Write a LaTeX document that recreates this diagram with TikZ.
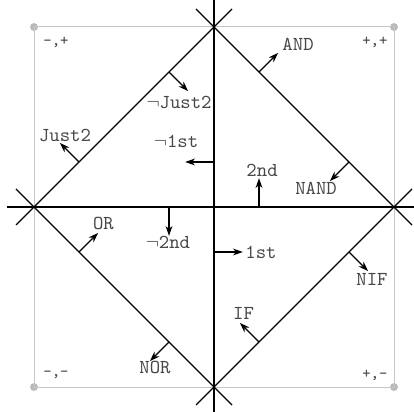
\documentclass[tikz,border=0pt]{standalone}
\usepackage{fontspec}
\usepackage{tikz}
\usetikzlibrary{arrows.meta, positioning, calc}

\begin{document}
\begin{tikzpicture}[x=3.2cm, y=3.2cm,
        axis/.style={draw=black, line width=0.65pt},
        side/.style={draw=black, line width=0.65pt},
        frame/.style={draw=gray!45, line width=0.5pt},
        corner/.style={circle, fill=gray!55, inner sep=0pt, minimum size=4pt},
        arrow/.style={-{Stealth[length=5pt, width=3.5pt]}, line width=0.6pt},
        label/.style={font=\ttfamily, text=black!72, inner sep=1pt},
        sign/.style={font=\footnotesize\ttfamily, text=black!70, inner sep=1pt}
    ]
    \useasboundingbox (-1.1889,-1.1389) rectangle (1.1111,1.15);

    % Frame and corner points
    \node[corner] (nw) at (-1, 1) {};
    \node[corner] (ne) at (1, 1) {};
    \node[corner] (se) at (1, -1) {};
    \node[corner] (sw) at (-1, -1) {};
    \draw[frame] (nw.center) -- (ne.center) -- (se.center) -- (sw.center) -- cycle;

    % Quadrant signs
    \node[sign] (mp) at (-0.878, 0.917) {-,+};
    \node[sign] (pp) at (0.894, 0.917) {+,+};
    \node[sign] (mm) at (-0.878, -0.933) {-,-};
    \node[sign] (pm) at (0.894, -0.933) {+,-};

    % Axes
    \coordinate (top) at (0, 1.15);
    \coordinate (bottom) at (0, -1.15);
    \coordinate (left) at (-1.15, 0);
    \coordinate (right) at (1.15, 0);
    \draw[axis] (top) -- (bottom);
    \draw[axis] (left) -- (right);

    % Diamond sides (extended past the corners)
    \coordinate (tl1) at (-1.1, -0.1);
    \coordinate (tl2) at (0.1, 1.1);
    \coordinate (tr1) at (-0.1, 1.1);
    \coordinate (tr2) at (1.1, -0.1);
    \coordinate (br1) at (1.1, 0.1);
    \coordinate (br2) at (-0.1, -1.1);
    \coordinate (bl1) at (0.1, -1.1);
    \coordinate (bl2) at (-1.1, 0.1);
    \draw[side] (tl1) -- (tl2);
    \draw[side] (tr1) -- (tr2);
    \draw[side] (br1) -- (br2);
    \draw[side] (bl1) -- (bl2);

    % Arrow feet and tips
    \coordinate (njust2a) at (-0.25, 0.75);   \coordinate (njust2b) at (-0.144, 0.644);
    \coordinate (just2a) at (-0.75, 0.25);    \coordinate (just2b) at (-0.856, 0.356);
    \coordinate (anda) at (0.25, 0.75);       \coordinate (andb) at (0.356, 0.856);
    \coordinate (nanda) at (0.75, 0.25);      \coordinate (nandb) at (0.644, 0.144);
    \coordinate (nifa) at (0.75, -0.25);      \coordinate (nifb) at (0.856, -0.356);
    \coordinate (ifa) at (0.25, -0.75);       \coordinate (ifb) at (0.144, -0.644);
    \coordinate (nora) at (-0.25, -0.75);     \coordinate (norb) at (-0.356, -0.856);
    \coordinate (ora) at (-0.75, -0.25);      \coordinate (orb) at (-0.644, -0.144);
    \coordinate (nfirsta) at (0, 0.25);       \coordinate (nfirstb) at (-0.16, 0.25);
    \coordinate (firsta) at (0, -0.25);       \coordinate (firstb) at (0.16, -0.25);
    \coordinate (seconda) at (0.25, 0);       \coordinate (secondb) at (0.25, 0.16);
    \coordinate (nseconda) at (-0.25, 0);     \coordinate (nsecondb) at (-0.25, -0.16);

    \draw[arrow] (njust2a) -- (njust2b);
    \draw[arrow] (just2a) -- (just2b);
    \draw[arrow] (anda) -- (andb);
    \draw[arrow] (nanda) -- (nandb);
    \draw[arrow] (nifa) -- (nifb);
    \draw[arrow] (ifa) -- (ifb);
    \draw[arrow] (nora) -- (norb);
    \draw[arrow] (ora) -- (orb);
    \draw[arrow] (nfirsta) -- (nfirstb);
    \draw[arrow] (firsta) -- (firstb);
    \draw[arrow] (seconda) -- (secondb);
    \draw[arrow] (nseconda) -- (nsecondb);

    % Labels
    \node[label] (njust2) at (-0.194, 0.578) {$\neg$Just2};
    \node[label] (just2) at (-0.828, 0.4) {Just2};
    \node[label] (and) at (0.467, 0.906) {AND};
    \node[label] (nand) at (0.567, 0.106) {NAND};
    \node[label] (nif) at (0.878, -0.4) {NIF};
    \node[label] (if) at (0.164, -0.589) {IF};
    \node[label] (nor) at (-0.328, -0.894) {NOR};
    \node[label] (or) at (-0.614, -0.094) {OR};
    \node[label] (nfirst) at (-0.211, 0.367) {$\neg$1st};
    \node[label] (first) at (0.261, -0.25) {1st};
    \node[label] (second) at (0.267, 0.206) {2nd};
    \node[label] (nsecond) at (-0.256, -0.194) {$\neg$2nd};
    \end{tikzpicture}
\end{document}
